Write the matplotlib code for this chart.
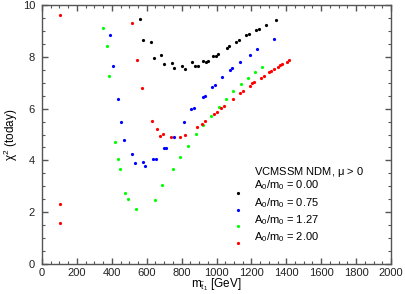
import matplotlib
matplotlib.use("Agg")
import matplotlib.pyplot as plt
from matplotlib.ticker import MultipleLocator

plt.rcParams['font.family'] = ['Liberation Sans', 'DejaVu Sans']
plt.rcParams['mathtext.default'] = 'regular'

# A0/m0 = 0.00
black_x = [562, 579, 625, 640, 684, 699, 745, 756, 804, 819, 861, 877, 896, 921, 940, 953,
           982, 997, 1010, 1058, 1070, 1110, 1127, 1171, 1186, 1226, 1242, 1284, 1341]
black_y = [9.46, 8.65, 8.57, 7.94, 8.08, 7.73, 7.75, 7.58, 7.63, 7.53, 7.79, 7.63, 7.63, 7.85,
           7.81, 7.83, 8.02, 8.04, 8.10, 8.33, 8.41, 8.59, 8.64, 8.83, 8.88, 9.03, 9.07, 9.24, 9.41]

# A0/m0 = 0.75
blue_x = [390, 405, 436, 453, 470, 516, 531, 577, 592, 636, 653, 699, 711, 758, 816, 854, 873,
          921, 934, 976, 990, 1033, 1076, 1089, 1135, 1190, 1230, 1331]
blue_y = [8.84, 7.63, 6.36, 5.49, 4.77, 4.24, 3.89, 3.94, 3.77, 4.07, 4.05, 4.47, 4.47, 4.92,
          5.48, 5.98, 6.01, 6.44, 6.50, 6.82, 6.91, 7.22, 7.49, 7.55, 7.80, 8.08, 8.29, 8.70]

# A0/m0 = 1.27
green_x = [351, 371, 386, 418, 433, 448, 478, 495, 539, 647, 690, 750, 793, 839, 881, 924,
           967, 1013, 1054, 1093, 1139, 1181, 1219, 1262]
green_y = [9.10, 8.43, 7.25, 4.70, 4.04, 3.66, 2.73, 2.51, 2.11, 2.47, 3.04, 3.66, 4.15, 4.57,
           5.01, 5.38, 5.73, 6.06, 6.38, 6.68, 6.94, 7.17, 7.41, 7.62]

# A0/m0 = 2.00
red_x = [103, 103, 103, 516, 543, 575, 632, 661, 678, 692, 737, 791, 819, 891, 918, 932, 986,
         1000, 1028, 1041, 1096, 1136, 1152, 1192, 1205, 1217, 1257, 1270, 1299, 1312, 1328,
         1351, 1364, 1377, 1402, 1417]
red_y = [9.61, 2.32, 1.58, 9.31, 7.86, 6.81, 5.51, 5.21, 4.96, 5.01, 4.92, 4.92, 4.98, 5.29,
         5.39, 5.51, 5.79, 5.87, 6.01, 6.11, 6.38, 6.59, 6.68, 6.89, 6.98, 7.03, 7.20, 7.27,
         7.40, 7.45, 7.52, 7.61, 7.67, 7.73, 7.81, 7.89]

series = [
    (black_x, black_y, 'black', '0.00'),
    (blue_x, blue_y, '#0000ff', '0.75'),
    (green_x, green_y, '#00ff00', '1.27'),
    (red_x, red_y, '#ff0000', '2.00'),
]

fig = plt.figure(figsize=(4.05, 2.94), dpi=100)
ax = fig.add_axes([42 / 405, 1 - 264 / 294, 349 / 405, 259 / 294])

for xs, ys, col, lab in series:
    ax.plot(xs, ys, 'o', color=col, markersize=2.3, markeredgewidth=0)

ax.set_xlim(0, 2000)
ax.set_ylim(0, 10)
ax.xaxis.set_major_locator(MultipleLocator(200))
ax.xaxis.set_minor_locator(MultipleLocator(50))
ax.yaxis.set_major_locator(MultipleLocator(2))
ax.yaxis.set_minor_locator(MultipleLocator(0.5))

edge = '#555555'
for s in ax.spines.values():
    s.set_color(edge)
    s.set_linewidth(1.0)
ax.tick_params(which='both', direction='in', top=True, right=True, color=edge,
               labelsize=8, labelcolor='#222222')
ax.tick_params(which='major', length=4, width=1.0)
ax.tick_params(which='minor', length=2, width=0.8)
ax.tick_params(axis='x', pad=3)
ax.tick_params(axis='y', pad=5)

ax.set_xlabel(r'$m_{\tilde{t}_1}$ [GeV]', fontsize=8.5, labelpad=-1)
ax.set_ylabel(r'$\chi^2$ (today)', fontsize=8.5, labelpad=2)

# legend block
ax.text(0.607, 0.356, r'VCMSSM NDM, $\mu$ > 0', transform=ax.transAxes,
        fontsize=8, va='center', ha='left')
text_y = [0.303, 0.237, 0.170, 0.102]
mark_y = [0.273, 0.210, 0.147, 0.081]
for (xs, ys, col, lab), ty, my in zip(series, text_y, mark_y):
    ax.plot([0.561], [my], 'o', color=col, markersize=2.3, markeredgewidth=0,
            transform=ax.transAxes, clip_on=False)
    ax.text(0.607, ty, r'$A_0/m_0$ = ' + lab, transform=ax.transAxes,
            fontsize=8, va='center', ha='left')

fig.savefig('out.png', dpi=100)
